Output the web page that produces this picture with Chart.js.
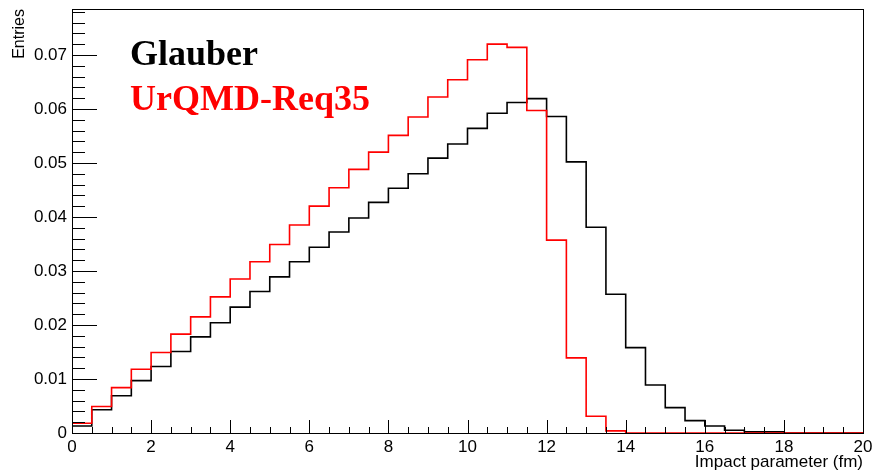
<!DOCTYPE html>
<html>
<head>
<meta charset="utf-8">
<script src="https://cdn.jsdelivr.net/npm/chart.js@4.4.1/dist/chart.umd.min.js"></script>
<style>
  html, body { margin: 0; padding: 0; background: #fff; }
  #wrap { width: 873px; height: 473px; }
</style>
</head>
<body>
<div id="wrap"><canvas id="js-impact" width="873" height="473"></canvas></div>
<script>
// bin width 0.5 fm, 40 bins from 0 to 20
const binWidth = 0.5;
const glauber = [
  0.0013, 0.0043, 0.0069, 0.0097, 0.0123, 0.0151, 0.0178, 0.0204,
  0.0233, 0.0262, 0.0289, 0.0317, 0.0344, 0.0372, 0.0398, 0.0427,
  0.0453, 0.0480, 0.0509, 0.0535, 0.0564, 0.0592, 0.0612, 0.0619,
  0.0586, 0.0502, 0.0381, 0.0257, 0.0158, 0.0089, 0.0047, 0.0023,
  0.0013, 0.0005, 0.0002, 0.0002, 0, 0, 0, 0,
];
const urqmd = [
  0.0018, 0.0049, 0.0084, 0.0118, 0.0149, 0.0183, 0.0215, 0.0252,
  0.0285, 0.0317, 0.0349, 0.0385, 0.0420, 0.0454, 0.0488, 0.0520,
  0.0551, 0.0585, 0.0622, 0.0654, 0.0691, 0.0720, 0.0714, 0.0597,
  0.0357, 0.0139, 0.0031, 0.0004, 0, 0, 0, 0,
  0, 0, 0, 0, 0, 0, 0, 0,
];
const xTicks = [0, 2, 4, 6, 8, 10, 12, 14, 16, 18, 20];
const xTickLabels = ['0', '2', '4', '6', '8', '10', '12', '14', '16', '18', '20'];
const yTicks = [0, 0.01, 0.02, 0.03, 0.04, 0.05, 0.06, 0.07];
const yTickLabels = ['0', '0.01', '0.02', '0.03', '0.04', '0.05', '0.06', '0.07'];

const sansFont = 'Liberation Sans, Arial, sans-serif';
const serifFont = 'Liberation Serif, Times New Roman, serif';

// histogram -> step points at bin low edges, closing point at the last edge
const toSteps = (contents) => {
  const pts = contents.map((v, i) => ({ x: i * binWidth, y: v }));
  pts.push({ x: contents.length * binWidth, y: contents[contents.length - 1] });
  return pts;
};

// ROOT-like frame with ticks pointing inward, plus the text labels
const rootFrame = {
  id: 'rootFrame',
  afterDraw(chart) {
    const { ctx, chartArea: a, scales: { x, y } } = chart;
    ctx.save();
    ctx.strokeStyle = '#000';
    ctx.lineWidth = 1;
    ctx.strokeRect(a.left + 0.5, a.top + 0.5, a.right - a.left, a.bottom - a.top);

    ctx.beginPath();
    for (let v = 0; v <= y.max + 1e-9; v += 0.002) {
      const py = Math.round(y.getPixelForValue(v)) + 0.5;
      const major = Math.abs(v / 0.01 - Math.round(v / 0.01)) < 1e-6;
      ctx.moveTo(a.left, py);
      ctx.lineTo(a.left + (major ? 25 : 13), py);
    }
    for (let v = 0; v <= 20 + 1e-9; v += 0.5) {
      const px = Math.round(x.getPixelForValue(v)) + 0.5;
      const major = v % 2 === 0;
      ctx.moveTo(px, a.bottom);
      ctx.lineTo(px, a.bottom - (major ? 13 : 6));
    }
    ctx.stroke();

    ctx.fillStyle = '#000';
    ctx.font = '17px ' + sansFont;
    ctx.textAlign = 'right';
    ctx.textBaseline = 'alphabetic';
    ctx.fillText('Impact parameter (fm)', a.right, 467);

    ctx.save();
    ctx.translate(24, 9);
    ctx.rotate(-Math.PI / 2);
    ctx.font = '16px ' + sansFont;
    ctx.fillText('Entries', 0, 0);
    ctx.restore();

    ctx.textAlign = 'left';
    ctx.font = 'bold 36px ' + serifFont;
    ctx.fillStyle = '#000';
    ctx.fillText('Glauber', 130, 65);
    ctx.fillStyle = '#ff0000';
    ctx.fillText('UrQMD-Req35', 130, 110);
    ctx.restore();
  },
};

const chartInit = (element) => new Chart(element, {
  type: 'line',
  data: {
    datasets: [
      {
        label: 'UrQMD-Req35',
        data: toSteps(urqmd),
        borderColor: '#ff0000',
        borderWidth: 1.6,
        stepped: 'before',
        pointRadius: 0,
        fill: false,
      },
      {
        label: 'Glauber',
        data: toSteps(glauber),
        borderColor: '#000000',
        borderWidth: 1.6,
        stepped: 'before',
        pointRadius: 0,
        fill: false,
      },
    ],
  },
  options: {
    responsive: false,
    animation: false,
    layout: { padding: { top: 9, right: 10, left: 0, bottom: 0 } },
    plugins: { legend: { display: false }, tooltip: { enabled: false } },
    scales: {
      x: {
        type: 'linear',
        min: 0,
        max: 20,
        afterBuildTicks: (scale) => { scale.ticks = xTicks.map((v) => ({ value: v })); },
        afterFit: (scale) => {
          scale.height = 40;
          scale.paddingLeft = 0;
          scale.paddingRight = 0;
        },
        ticks: {
          autoSkip: false,
          maxRotation: 0,
          padding: 4,
          color: '#000',
          font: { family: sansFont, size: 17 },
          callback: (v) => xTickLabels[xTicks.indexOf(v)] ?? '',
        },
        grid: { display: false, drawTicks: false },
        border: { display: false },
      },
      y: {
        type: 'linear',
        min: 0,
        max: 0.0785,
        afterBuildTicks: (scale) => { scale.ticks = yTicks.map((v) => ({ value: v })); },
        afterFit: (scale) => {
          scale.width = 72;
          scale.paddingTop = 0;
          scale.paddingBottom = 0;
        },
        ticks: {
          autoSkip: false,
          padding: 5,
          color: '#000',
          font: { family: sansFont, size: 17 },
          callback: (v) => yTickLabels[yTicks.indexOf(v)] ?? '',
        },
        grid: { display: false, drawTicks: false },
        border: { display: false },
      },
    },
  },
  plugins: [rootFrame],
});

document.addEventListener('DOMContentLoaded', () => {
  const element = document.getElementById('js-impact');
  if (element) {
    chartInit(element);
  }
});
</script>
</body>
</html>
